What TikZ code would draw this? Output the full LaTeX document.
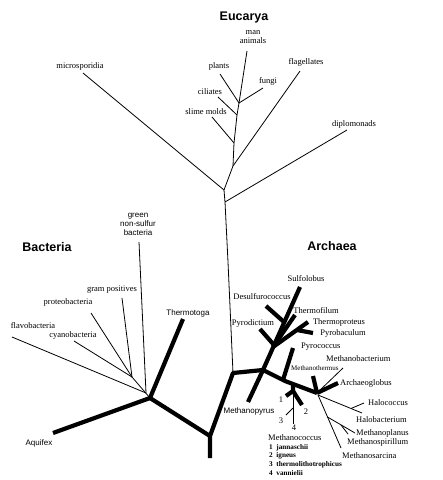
\documentclass[tikz,border=0pt]{standalone}
\usepackage{fontspec}
\setmainfont{Liberation Serif}
\setsansfont{Liberation Sans}
\begin{document}
\begin{tikzpicture}[x=1pt,y=-1pt,
  thn/.style={line width=0.8pt},
  thk/.style={line width=4.2pt,line join=round},
  lab/.style={inner sep=0pt,font=\fontsize{8.5}{9}\selectfont},
  labs/.style={inner sep=0pt,font=\sffamily\fontsize{8}{9}\selectfont},
  ttl/.style={inner sep=0pt,font=\sffamily\bfseries\fontsize{12.5}{13}\selectfont},
  sml/.style={inner sep=0pt,anchor=west,font=\bfseries\fontsize{7.2}{8}\selectfont}]
\useasboundingbox[fill=white] (0,0) rectangle (443,480);
% ---------- coordinates ----------
% Eucarya
\coordinate (eTop) at (247,51);
\coordinate (ePF) at (239,103);
\coordinate (eC) at (237,115);
\coordinate (eS) at (234,143);
\coordinate (eF) at (233,166);
\coordinate (eM) at (224,190);
\coordinate (eD) at (225,202);
\coordinate (eT1) at (228,262);
\coordinate (tPl) at (220,74);
\coordinate (tFu) at (263,88);
\coordinate (tCi) at (218,97);
\coordinate (tSl) at (212,117);
\coordinate (tFl) at (300,71);
\coordinate (tMi) at (83,73);
\coordinate (tDi) at (347,130);
% root
\coordinate (rB) at (210,458);
\coordinate (r) at (210,436);
\coordinate (aJ) at (233,373);
\coordinate (bJ) at (150,398);
% Archaea
\coordinate (a1) at (263,370);
\coordinate (a2) at (285,381);
\coordinate (a3) at (317,393);
\coordinate (tMp) at (248,402);
\coordinate (tSu) at (300,287);
\coordinate (cP) at (274,345);
\coordinate (tPd) at (260,329);
\coordinate (cDs) at (284,322);
\coordinate (tDs) at (266,306);
\coordinate (cTh) at (273,347);
\coordinate (tTf) at (295,315);
\coordinate (tTp) at (308,322);
\coordinate (cPb) at (297,330);
\coordinate (tPb) at (313,333);
\coordinate (cPy) at (283,380);
\coordinate (tPy) at (293,348);
\coordinate (cMc) at (293,384);
\coordinate (mJ) at (293,391);
\coordinate (t1) at (286,396);
\coordinate (t2) at (302,405);
\coordinate (t4) at (293,424);
\coordinate (m3) at (293,408);
\coordinate (t3) at (286,415);
\coordinate (tMb) at (313,376);
\coordinate (tMt) at (343,368);
\coordinate (tAg) at (338,383);
\coordinate (a3b) at (318,395);
\coordinate (tHb) at (362,413);
\coordinate (hJ) at (351,408.5);
\coordinate (tHc) at (364,403);
\coordinate (tMs) at (341,448);
\coordinate (mpJ) at (327.5,417);
\coordinate (tMpl) at (355,433);
\coordinate (msJ) at (341,425);
\coordinate (tMsp) at (348,434);
% Bacteria
\coordinate (tAq) at (53,433);
\coordinate (tTt) at (183,319);
\coordinate (bX) at (132,377);
\coordinate (bY) at (146,393);
\coordinate (tGp) at (122,298);
\coordinate (tPr) at (91,313);
\coordinate (tCy) at (74,341);
\coordinate (tFv) at (12,337);
\coordinate (tGn) at (139,242);
% ---------- branches ----------
\draw[thn] (eTop) -- (ePF) -- (eC) -- (eS) -- (eF) -- (eM) -- (eD) -- (eT1) -- (aJ);
\draw[thn] (tPl) -- (ePF) -- (tFu);
\draw[thn] (tCi) -- (eC);
\draw[thn] (tSl) -- (eS);
\draw[thn] (tFl) -- (eF);
\draw[thn] (tMi) -- (eM);
\draw[thn] (tDi) -- (eD);
\draw[thk] (rB) -- (r) -- (aJ) -- (a1) -- (a2) -- (a3);
\draw[thk] (r) -- (bJ);
\draw[thk] (bJ) -- (tAq);
\draw[thk] (bJ) -- (tTt);
\draw[thk] (a1) -- (tMp);
\draw[thk] (a1) -- (tSu);
\draw[thk] (cP) -- (tPd);
\draw[thk] (cDs) -- (tDs);
\draw[thk] (cTh) -- (tTf);
\draw[thk] (cTh) -- (tTp);
\draw[thk] (cPb) -- (tPb);
\draw[thk] (cPy) -- (tPy);
\draw[thk] (cMc) -- (mJ) -- (t1);
\draw[thk] (mJ) -- (t2);
\draw[thn] (mJ) -- (t4);
\draw[thn] (m3) -- (t3);
\draw[thk] (a3) -- (tMb);
\draw[thk] (a3) -- (tAg);
\draw[thn] (a3) -- (tMt);
\draw[thn] (a3b) -- (tHb);
\draw[thn] (hJ) -- (tHc);
\draw[thn] (a3b) -- (tMs);
\draw[thn] (mpJ) -- (tMpl);
\draw[thn] (msJ) -- (tMsp);
\draw[thn] (bJ) -- (bX);
\draw[thn] (tGp) -- (bX);
\draw[thn] (tPr) -- (bX);
\draw[thn] (tCy) -- (bX);
\draw[thn] (tFv) -- (bY);
\draw[thn] (tGn) -- (bY);
% ---------- labels ----------
\node[ttl] (Euc) at (244,17) {Eucarya};
\node[ttl] (Bac) at (47,247) {Bacteria};
\node[ttl] (Arc) at (332,246) {Archaea};
\node[lab,align=center] (lMan) at (253,37) {man\\animals};
\node[lab] (lPl) at (219,66) {plants};
\node[lab] (lFu) at (268,81) {fungi};
\node[lab] (lCi) at (210,92) {ciliates};
\node[lab] (lSl) at (206,112) {slime molds};
\node[lab] (lFl) at (306,62) {flagellates};
\node[lab] (lDi) at (354,124) {diplomonads};
\node[lab] (lMi) at (80,66) {microsporidia};
\node[labs,align=center] (lGn) at (138,224) {green\\non-sulfur\\bacteria};
\node[lab] (lGp) at (112,290) {gram positives};
\node[lab] (lPr) at (68,302) {proteobacteria};
\node[lab] (lFv) at (33,326) {flavobacteria};
\node[lab] (lCy) at (73,335) {cyanobacteria};
\node[labs] (lTt) at (188,313) {Thermotoga};
\node[labs] (lAq) at (39,443) {Aquifex};
\node[labs] (lMp) at (249,411) {Methanopyrus};
\node[lab] (lSu) at (306,279) {Sulfolobus};
\node[lab] (lDs) at (262,297) {Desulfurococcus};
\node[lab] (lTf) at (316,311) {Thermofilum};
\node[lab] (lTp) at (339,322) {Thermoproteus};
\node[lab] (lPb) at (343,333) {Pyrobaculum};
\node[lab] (lPd) at (253,323) {Pyrodictium};
\node[lab,anchor=west] (lPy) at (301,347) {Pyrococcus};
\node[lab,anchor=west] (lMb) at (326,359) {Methanobacterium};
\node[lab,anchor=west,font=\fontsize{7}{8}\selectfont] (lMt) at (291,368) {Methanothermus};
\node[lab,anchor=west] (lAg) at (340,383) {Archaeoglobus};
\node[lab,anchor=west] (lHc) at (368,403) {Halococcus};
\node[lab,anchor=west] (lHb) at (356,420) {Halobacterium};
\node[lab,anchor=west] (lMpl) at (356,433) {Methanoplanus};
\node[lab,anchor=west] (lMsp) at (347,442) {Methanospirillum};
\node[lab,anchor=west] (lMs) at (342,456) {Methanosarcina};
\node[lab] (n1) at (281,400) {1};
\node[lab] (n2) at (306,412) {2};
\node[lab] (n3) at (281,421) {3};
\node[lab] (n4) at (294,428) {4};
\node[lab,anchor=west] (lMc) at (268,438) {Methanococcus};
\node[sml] (s1) at (269,448) {1\ \ jannaschii};
\node[sml] (s2) at (269,456) {2\ \ igneus};
\node[sml] (s3) at (269,464.5) {3\ \ thermolithotrophicus};
\node[sml] (s4) at (269,473) {4\ \ vannielii};
\end{tikzpicture}
\end{document}
